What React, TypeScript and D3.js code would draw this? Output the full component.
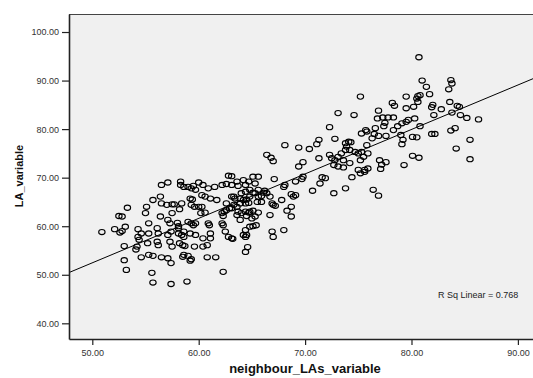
import React, { useEffect, useRef } from 'react';
import * as d3 from 'd3';

const xTicks = [50, 60, 70, 80, 90];
const yTicks = [40, 50, 60, 70, 80, 90, 100];
const xTitle = 'neighbour_LAs_variable';
const yTitle = 'LA_variable';
const fitIntercept = 6.68;
const fitSlope = 0.9156;
const rSquared = 0.768;

// [neighbour_LAs_variable, LA_variable]
const points: [number, number][] = [
  [50.9, 58.8], [52.1, 59.4], [52.6, 58.7], [52.8, 59.0], [53.1, 59.9], [52.5, 62.1], [52.8, 62.0], [53.3, 63.8],
  [53.0, 55.9], [53.0, 53.0], [53.2, 51.0], [54.3, 59.4], [54.3, 57.8], [54.4, 57.2], [54.2, 55.8], [54.1, 55.2],
  [54.6, 58.5], [55.1, 64.0], [55.0, 62.7], [55.3, 60.6], [55.3, 58.5], [55.2, 56.5], [54.6, 53.6], [55.3, 54.1],
  [55.7, 53.9], [55.6, 50.4], [55.7, 48.4], [55.7, 65.4], [56.4, 66.1], [56.5, 64.7], [57.0, 64.4], [56.5, 68.5],
  [57.1, 69.0], [56.4, 62.0], [56.1, 59.6], [56.2, 58.5], [56.1, 56.8], [56.2, 56.1], [56.5, 53.6], [57.1, 53.4],
  [57.4, 52.4], [57.4, 48.1], [57.1, 61.3], [57.3, 60.6], [57.5, 62.7], [57.5, 64.5], [57.7, 64.5], [57.1, 58.2],
  [57.4, 58.9], [57.3, 56.8], [57.5, 55.8], [58.0, 60.7], [58.1, 59.6], [58.1, 60.0], [58.1, 58.5], [58.3, 69.2],
  [58.3, 68.5], [58.6, 68.1], [58.4, 64.7], [58.2, 63.5], [58.4, 58.2], [58.6, 57.8], [58.6, 58.9], [58.5, 56.1],
  [58.2, 56.5], [58.5, 53.7], [58.6, 54.1], [59.0, 53.9], [59.2, 52.9], [59.3, 53.2], [58.9, 48.6], [59.0, 68.1],
  [59.3, 67.8], [59.5, 68.3], [59.7, 67.5], [59.2, 65.7], [59.4, 65.5], [59.3, 64.4], [59.6, 64.0], [59.0, 60.9],
  [59.3, 60.6], [59.5, 60.2], [59.7, 60.6], [59.2, 58.5], [59.7, 58.2], [58.7, 55.9], [59.6, 55.8], [60.0, 69.0],
  [60.4, 68.5], [60.3, 66.4], [60.6, 66.1], [60.0, 64.0], [60.3, 64.0], [60.2, 62.7], [60.6, 62.8], [60.9, 60.6],
  [61.0, 60.2], [61.1, 58.5], [60.4, 57.5], [61.1, 57.5], [60.4, 55.8], [60.8, 56.1], [60.8, 53.6], [61.6, 53.6],
  [62.3, 50.6], [60.9, 67.8], [61.5, 68.1], [61.7, 65.4], [61.1, 65.7], [62.2, 68.5], [62.6, 68.7], [62.8, 70.4],
  [63.1, 68.5], [62.2, 62.7], [62.3, 62.1], [62.4, 63.0], [62.6, 63.3], [62.9, 63.7], [62.2, 60.6], [62.3, 60.2],
  [62.5, 58.9], [62.8, 57.8], [63.1, 57.5], [62.6, 64.7], [63.1, 66.1],
  [63.1, 70.3], [63.6, 69.2], [63.7, 68.3], [64.2, 69.5], [64.4, 68.5], [64.7, 69.2], [65.1, 70.2], [65.6, 70.2],
  [65.3, 68.8], [65.6, 67.5], [65.1, 66.9], [64.8, 67.5], [64.4, 67.1], [64.0, 66.8], [63.3, 66.1], [63.4, 65.7],
  [63.9, 65.7], [64.2, 65.4], [64.5, 65.5], [64.8, 66.1], [65.3, 66.8], [65.6, 66.1], [65.9, 66.2], [65.9, 65.0],
  [65.5, 65.0], [66.1, 66.9], [66.2, 67.3], [66.4, 66.8], [66.7, 66.1], [66.9, 64.7], [67.0, 64.4], [67.2, 64.2],
  [67.8, 65.4], [68.0, 68.1], [68.1, 68.5], [68.7, 66.6], [69.1, 66.4], [68.9, 66.1], [67.1, 69.7], [69.1, 69.2],
  [69.8, 70.2], [69.7, 69.7], [70.7, 67.3], [71.4, 68.8], [71.6, 70.1], [71.9, 69.9], [72.7, 66.8], [73.8, 67.8],
  [74.4, 70.1], [75.2, 70.9], [75.6, 71.2],
  [63.3, 64.4], [63.1, 63.7], [63.6, 64.0], [63.9, 64.7], [64.4, 64.7], [64.7, 64.8], [63.7, 63.0], [64.0, 62.7],
  [64.4, 63.0], [64.7, 62.8], [64.8, 63.0], [65.1, 63.2], [65.6, 62.8], [65.3, 62.0], [65.0, 61.6], [64.5, 62.1],
  [63.9, 61.3], [63.6, 62.3], [66.7, 62.3], [68.3, 63.2], [68.7, 64.0], [68.7, 62.0], [64.8, 59.9], [65.1, 60.0],
  [65.4, 60.2], [64.4, 59.2], [64.2, 58.2], [64.5, 58.2], [64.4, 57.8], [66.9, 58.9], [67.0, 57.8], [68.0, 59.2],
  [63.2, 57.4], [64.6, 55.7], [64.4, 54.7],
  [75.2, 86.7], [73.1, 83.3], [74.6, 82.9], [72.3, 80.4], [72.8, 78.0], [68.1, 76.7], [69.4, 76.2], [70.4, 75.9],
  [71.1, 76.9], [71.3, 77.8], [66.4, 74.7], [66.8, 74.1], [67.0, 73.4], [69.8, 73.2], [69.4, 72.3], [71.3, 74.0],
  [72.3, 74.7], [72.5, 74.0], [72.8, 73.6], [73.1, 74.3], [73.4, 75.0], [73.8, 77.1], [73.9, 76.4], [74.1, 77.4],
  [74.3, 77.3], [73.8, 75.7], [74.2, 75.7], [74.7, 75.3], [75.0, 75.0], [75.3, 75.3], [75.7, 79.8], [75.8, 79.5],
  [75.3, 79.1], [75.8, 76.7], [75.5, 74.3], [73.6, 73.6], [72.7, 72.6], [73.1, 72.3], [73.6, 72.1], [74.2, 73.0],
  [75.0, 71.6], [75.6, 71.6], [75.9, 71.9], [75.2, 73.6],
  [80.7, 94.8], [81.0, 90.0], [81.4, 88.7], [81.7, 87.2], [83.7, 90.1], [83.8, 89.4], [83.5, 88.2], [80.8, 87.0],
  [80.6, 86.8], [80.5, 86.3], [79.5, 86.7], [78.2, 85.4], [78.4, 84.8], [76.9, 83.8], [76.8, 82.2], [77.3, 82.4],
  [77.8, 82.4], [78.3, 82.4], [79.5, 84.3], [80.2, 84.6], [80.6, 85.6], [82.0, 85.0], [81.9, 84.5], [82.8, 84.1],
  [82.1, 82.9], [83.6, 85.6], [84.3, 84.8], [84.5, 84.6], [83.8, 83.4], [84.6, 82.9], [85.2, 82.3], [86.3, 82.0],
  [79.7, 81.9], [80.3, 82.2], [79.5, 81.5], [79.1, 81.2], [78.7, 80.6], [80.8, 80.6], [77.5, 81.3], [77.4, 80.6],
  [76.6, 80.2], [76.5, 79.0], [76.9, 78.6], [76.3, 78.1], [77.6, 78.6], [78.3, 79.8], [79.0, 78.8], [79.1, 76.9],
  [79.2, 77.8], [80.1, 78.4], [80.5, 78.3], [81.9, 79.0], [82.2, 79.0], [83.7, 79.7], [84.1, 80.2], [84.2, 76.0],
  [85.5, 77.8],
  [75.9, 75.0], [77.0, 73.6], [77.2, 72.7], [77.6, 73.2], [77.1, 71.8], [76.4, 67.5], [76.9, 66.3], [79.3, 72.6],
  [80.1, 74.5], [80.7, 74.1], [85.5, 73.8],
];

const ScatterChart = () => {
  const chartRef = useRef<SVGSVGElement>(null);

  useEffect(() => {
    const svg = d3.select(chartRef.current);
    svg.selectAll('*').remove();

    const left = 69, top = 14, right = 533, bottom = 339;
    const font = '"Liberation Sans", Arial, sans-serif';

    const x = d3.scaleLinear().domain([47.81, 91.42]).range([left, right]);
    const y = d3.scaleLinear().domain([36.77, 103.71]).range([bottom, top]);

    svg.append('rect')
      .attr('width', 533).attr('height', 378).attr('fill', '#fff');

    svg.append('defs').append('clipPath').attr('id', 'plot-clip')
      .append('rect')
      .attr('x', left).attr('y', top)
      .attr('width', right - left).attr('height', bottom - top);

    svg.append('rect')
      .attr('x', left).attr('y', top)
      .attr('width', right - left + 10).attr('height', bottom - top)
      .attr('fill', '#f0f0f0');

    svg.append('line')
      .attr('x1', left).attr('x2', right)
      .attr('y1', top + 0.5).attr('y2', top + 0.5)
      .attr('stroke', '#444').attr('stroke-width', 1);

    const plot = svg.append('g').attr('clip-path', 'url(#plot-clip)');

    plot.selectAll('ellipse')
      .data(points)
      .enter().append('ellipse')
      .attr('cx', d => x(d[0]))
      .attr('cy', d => y(d[1]))
      .attr('rx', 3.2)
      .attr('ry', 2.6)
      .attr('fill', 'none')
      .attr('stroke', '#000')
      .attr('stroke-width', 1.1);

    const [x0, x1] = x.domain();
    plot.append('line')
      .attr('x1', x(x0)).attr('y1', y(fitIntercept + fitSlope * x0))
      .attr('x2', x(x1)).attr('y2', y(fitIntercept + fitSlope * x1))
      .attr('stroke', '#000')
      .attr('stroke-width', 1);

    const fmt = d3.format('.2f');

    const xAxis = svg.append('g')
      .attr('transform', `translate(0,${bottom})`)
      .call(d3.axisBottom(x).tickValues(xTicks).tickSize(6).tickSizeOuter(0).tickPadding(5).tickFormat(fmt));

    const yAxis = svg.append('g')
      .attr('transform', `translate(${left},0)`)
      .call(d3.axisLeft(y).tickValues(yTicks).tickSize(7).tickSizeOuter(0).tickPadding(3).tickFormat(fmt));

    [xAxis, yAxis].forEach(g => {
      g.attr('font-family', font).attr('font-size', 9);
      g.select('.domain').attr('stroke', '#222').attr('stroke-width', 1.6);
      g.selectAll('.tick line').attr('stroke', '#222').attr('stroke-width', 1.2);
      g.selectAll('.tick text').attr('fill', '#333');
    });

    svg.append('text')
      .attr('x', 438).attr('y', 298)
      .attr('font-family', font).attr('font-size', 9).attr('fill', '#222')
      .text(`R Sq Linear = ${rSquared}`);

    svg.append('text')
      .attr('x', 305).attr('y', 373)
      .attr('text-anchor', 'middle')
      .attr('font-family', font).attr('font-size', 13).attr('font-weight', 'bold')
      .attr('fill', '#111')
      .text(xTitle);

    svg.append('text')
      .attr('transform', 'translate(23,176) rotate(-90)')
      .attr('text-anchor', 'middle')
      .attr('font-family', font).attr('font-size', 11).attr('font-weight', 'bold')
      .attr('fill', '#111')
      .text(yTitle);
  }, []);

  return (
    <svg ref={chartRef} width={533} height={378} style={{ position: 'absolute', left: 0, top: 0 }}></svg>
  );
};

export default function App() {
  return <ScatterChart />;
}
